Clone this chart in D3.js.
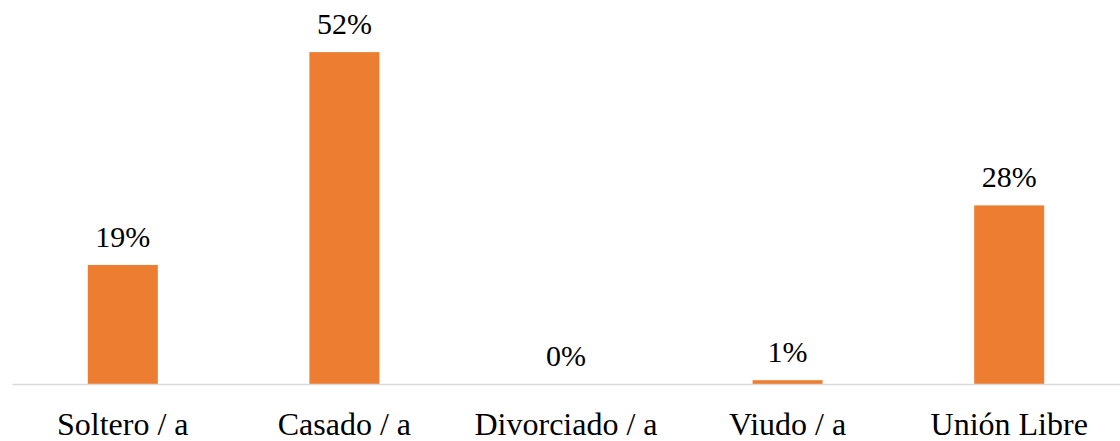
<!DOCTYPE html>
<html>
<head>
<meta charset="utf-8">
<script src="https://cdn.jsdelivr.net/npm/d3@7"></script>
<style>
  body { margin: 0; background: #fff; }
  text { font-family: "Liberation Serif", "Times New Roman", serif; fill: #000; }
</style>
</head>
<body>
<div id="chart"></div>
<script>
// data
const categories = ["Soltero / a", "Casado / a", "Divorciado / a", "Viudo / a", "Unión Libre"];
const values = [18.8, 52.4, 0, 0.6, 28.2];
const valueLabels = ["19%", "52%", "0%", "1%", "28%"];

const width = 1120, height = 441;
const margin = {top: 4, right: 0, bottom: 57, left: 12};

const svg = d3.select("#chart")
  .append("svg")
  .attr("width", width)
  .attr("height", height);

const x = d3.scaleBand()
  .domain(categories)
  .range([margin.left, width - margin.right])
  .paddingInner(0.684)
  .paddingOuter(0.342);

const y = d3.scaleLinear()
  .domain([0, 60])
  .range([height - margin.bottom, margin.top]);

// bars
svg.selectAll(".bar")
  .data(values)
  .enter().append("rect")
  .attr("class", "bar")
  .attr("x", (d, i) => x(categories[i]))
  .attr("y", d => y(d))
  .attr("width", x.bandwidth())
  .attr("height", d => y(0) - y(d))
  .attr("fill", "#ED7D31");

// value labels
svg.selectAll(".val")
  .data(values)
  .enter().append("text")
  .attr("class", "val")
  .attr("x", (d, i) => x(categories[i]) + x.bandwidth() / 2)
  .attr("y", d => y(d) - 18)
  .attr("text-anchor", "middle")
  .attr("font-size", 30)
  .text((d, i) => valueLabels[i]);

// x axis
const xAxis = svg.append("g")
  .attr("transform", "translate(0," + y(0) + ")")
  .call(d3.axisBottom(x).tickSize(0).tickPadding(0));

xAxis.select(".domain")
  .attr("stroke", "#d9d9d9")
  .attr("stroke-width", 1.5);

xAxis.selectAll(".tick text")
  .attr("dy", 0)
  .attr("y", 51)
  .attr("font-size", 32)
  .style("font-family", "'Liberation Serif', 'Times New Roman', serif")
  .attr("fill", "#000");
</script>
</body>
</html>
